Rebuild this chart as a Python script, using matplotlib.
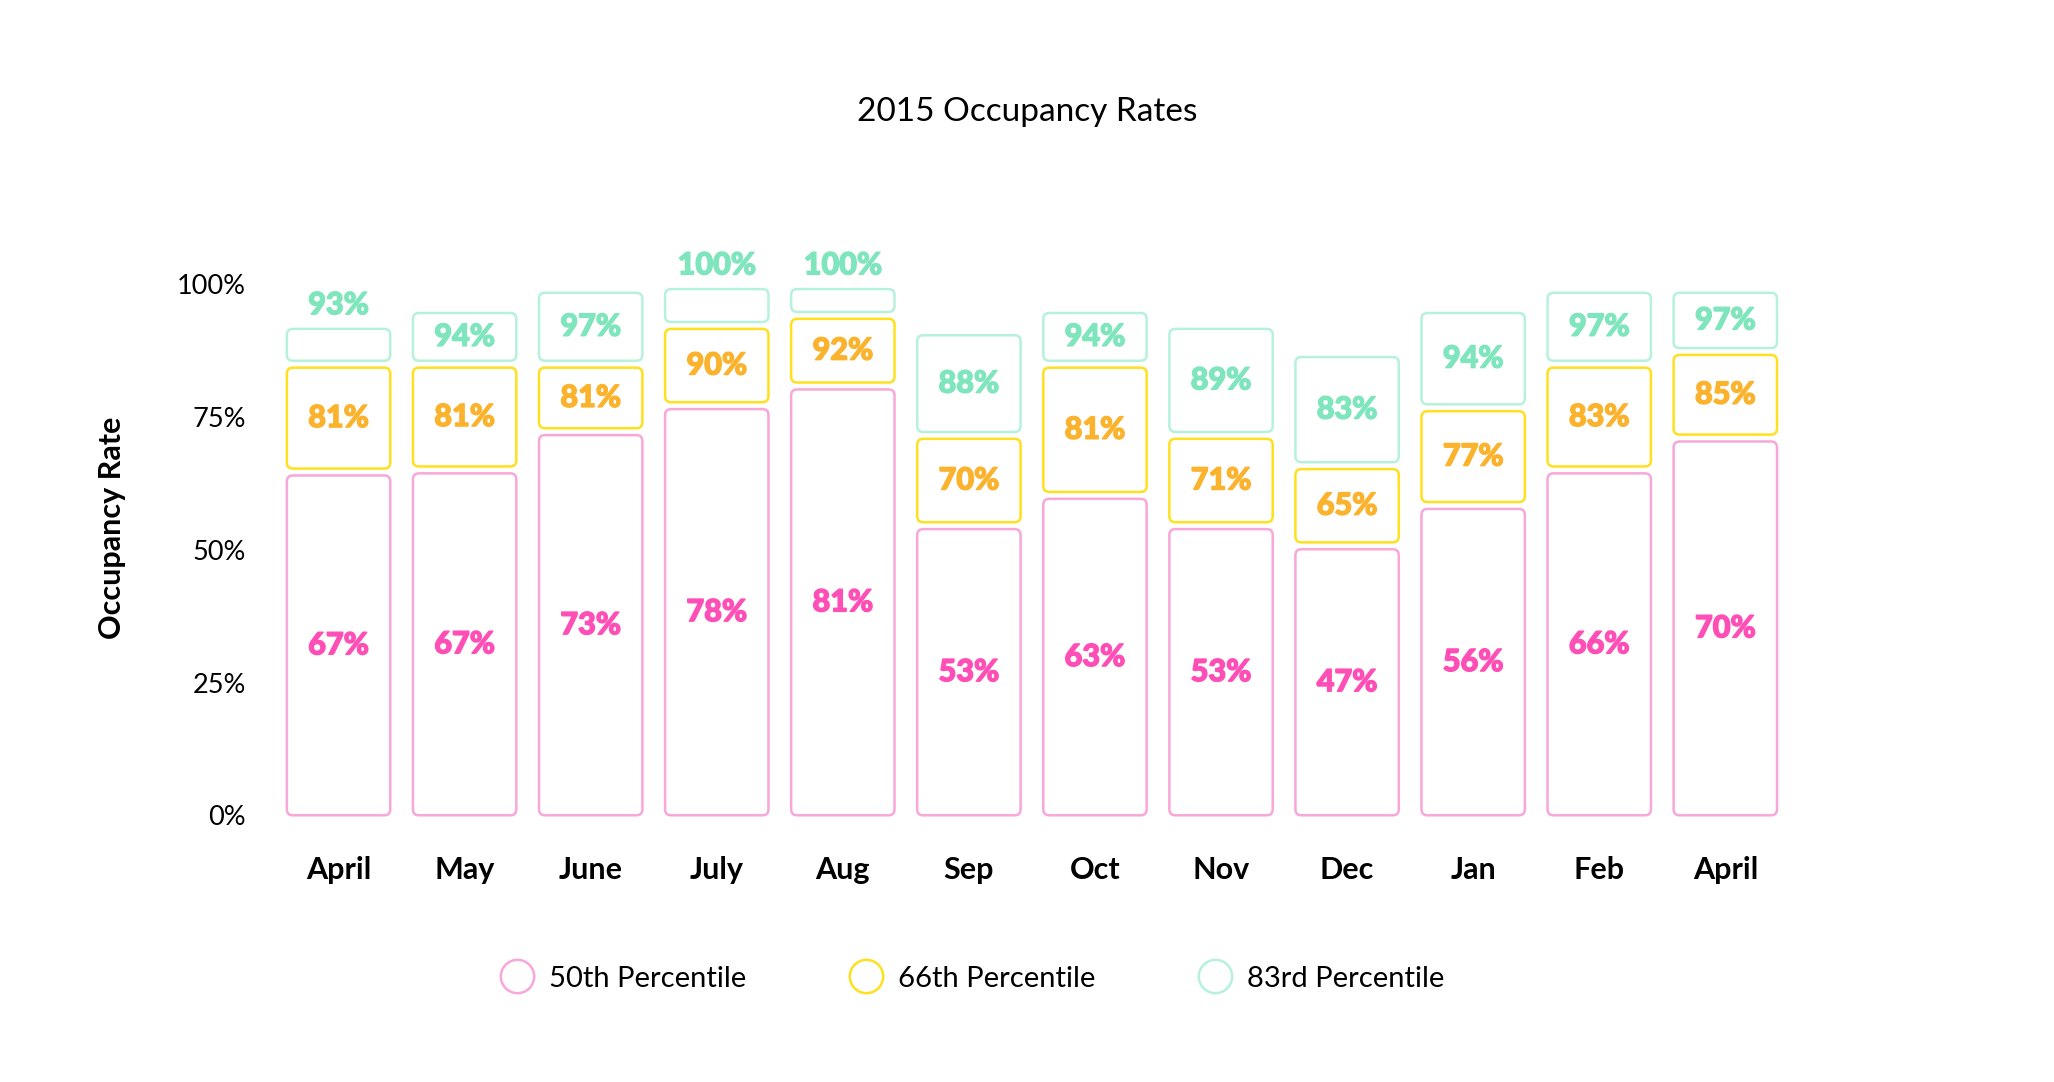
import numpy as np
import matplotlib.pyplot as plt
import matplotlib.patheffects as pe
from matplotlib.patches import FancyBboxPatch
from matplotlib.lines import Line2D

plt.rcParams['font.family'] = ['Lato', 'DejaVu Sans']

months = ["April", "May", "June", "July", "Aug", "Sep", "Oct", "Nov", "Dec", "Jan", "Feb", "April"]

# percentile labels as printed on the chart
p50 = [67, 67, 73, 78, 81, 53, 63, 53, 47, 56, 66, 70]
p66 = [81, 81, 81, 90, 92, 70, 81, 71, 65, 77, 83, 85]
p83 = [93, 94, 97, 100, 100, 88, 94, 89, 83, 94, 97, 97]

# segment tops as drawn in the picture (%)
top50 = [64.0, 64.4, 71.6, 76.5, 80.2, 53.9, 59.6, 53.9, 50.1, 57.7, 64.4, 70.4]
top66 = [84.3, 84.3, 84.3, 91.6, 93.5, 70.9, 84.3, 70.9, 65.2, 76.1, 84.3, 86.7]
top83 = [91.6, 94.6, 98.4, 99.1, 99.1, 90.4, 94.6, 91.6, 86.3, 94.6, 98.4, 98.4]

yticks = [0, 25, 50, 75, 100]
series_names = ["50th Percentile", "66th Percentile", "83rd Percentile"]
edge_colors = ["#F9A6D8", "#FFE01E", "#B6F1DC"]
text_colors = ["#FF4FB6", "#FBB22C", "#7FE5BD"]

fig = plt.figure(figsize=(20.54, 10.82), dpi=100)
ax = fig.add_axes([0.128, 0.2465, 0.7488, 0.5398])
ax.set_xlim(-0.6, 11.6)
ax.set_ylim(0, 110)

# pixel aspect so the rounded corners stay round
bb = ax.get_window_extent()
sx = bb.width / 12.2
sy = bb.height / 110
aspect = sx / sy
radius = 6 / sx

x = np.arange(len(months))
width = 0.82
gap = 1.3

for i in range(len(months)):
    lows = [0, top50[i] + gap, top66[i] + gap]
    highs = [top50[i], top66[i], top83[i]]
    labels = [p50[i], p66[i], p83[i]]
    for k in range(3):
        h = highs[k] - lows[k]
        box = FancyBboxPatch((x[i] - width / 2, lows[k]), width, h,
                             boxstyle="round,pad=0,rounding_size=%f" % radius,
                             mutation_aspect=aspect, facecolor="white",
                             edgecolor=edge_colors[k], linewidth=1.8, clip_on=False)
        ax.add_patch(box)
        # thicken the label a bit, the original uses a heavy face
        heavy = [pe.withStroke(linewidth=1.0, foreground=text_colors[k])]
        if h < 8:
            ax.annotate("%d%%" % labels[k], (x[i], highs[k]), xytext=(0, 7),
                        textcoords="offset points", ha="center", va="bottom",
                        color=text_colors[k], fontsize=22, fontweight="black",
                        path_effects=heavy)
        else:
            ax.text(x[i], lows[k] + h / 2, "%d%%" % labels[k], ha="center", va="center",
                    color=text_colors[k], fontsize=22, fontweight="black",
                    path_effects=heavy)

ax.set_xticks(x)
ax.set_xticklabels(months, fontsize=22, fontweight="bold")
ax.set_yticks(yticks)
ax.set_yticklabels(["%d%%" % v for v in yticks], fontsize=19.5)
ax.tick_params(axis="x", length=0, pad=29)
ax.tick_params(axis="y", length=0, pad=12)
for s in ax.spines.values():
    s.set_visible(False)

fig.text(0.0545, 0.512, "Occupancy Rate", rotation=90, ha="center", va="center",
         fontsize=22, fontweight="bold")
fig.text(0.5, 0.8965, "2015 Occupancy Rates", ha="center", va="center", fontsize=24)

handles = [Line2D([], [], marker="o", linestyle="", markersize=24, markerfacecolor="white",
                  markeredgecolor=c, markeredgewidth=1.8) for c in edge_colors]
fig.legend(handles, series_names, loc="center", bbox_to_anchor=(0.474, 0.0955), ncol=3,
           frameon=False, columnspacing=3.6, handlelength=1.0, handletextpad=0.6,
           prop={"size": 21})

fig.savefig("out.png", dpi=100)
